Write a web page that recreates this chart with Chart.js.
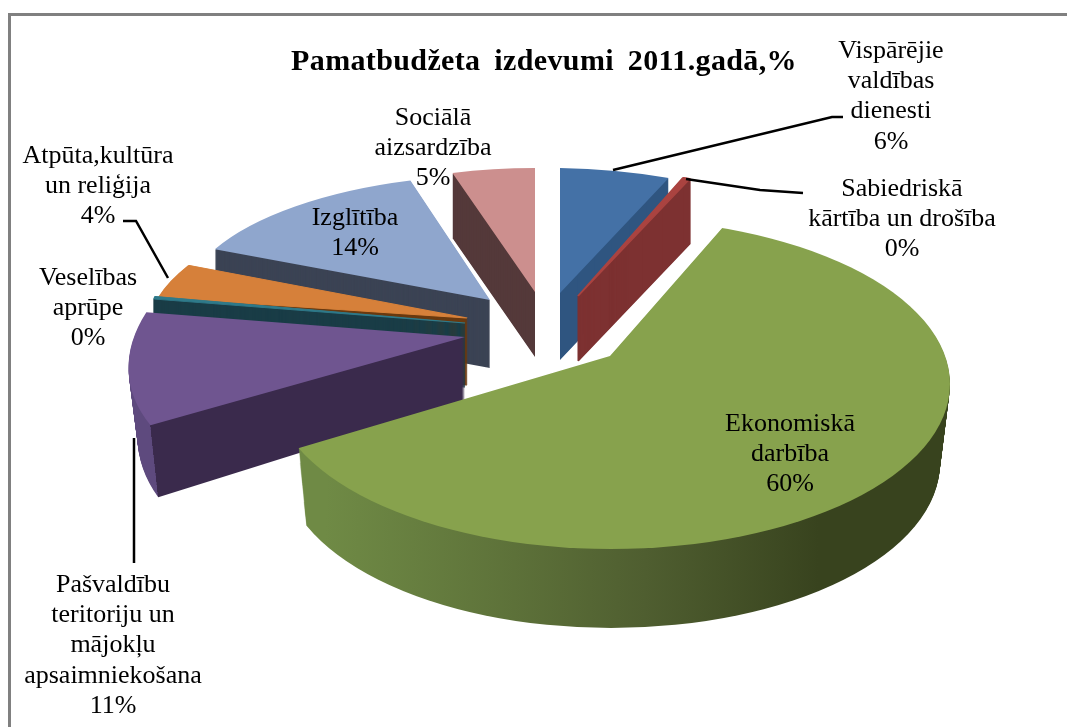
<!DOCTYPE html>
<html>
<head>
<meta charset="utf-8">
<title>Pamatbudžeta izdevumi 2011.gadā</title>
<script src="https://cdn.jsdelivr.net/npm/chart.js@4"></script>
<style>
    html, body { margin: 0; padding: 0; background: #fff; overflow: hidden; }
    canvas { display: block; }
</style>
</head>
<body>
<canvas id="pieChartData" width="1067" height="727"></canvas>
<script>
var chartTitle = 'Pamatbudžeta izdevumi 2011.gadā,%';
var categories = [
    ['Vispārējie', 'valdības', 'dienesti'],
    ['Sabiedriskā', 'kārtība un drošība'],
    ['Ekonomiskā', 'darbība'],
    ['Pašvaldību', 'teritoriju un', 'mājokļu', 'apsaimniekošana'],
    ['Veselības', 'aprūpe'],
    ['Atpūta,kultūra', 'un reliģija'],
    ['Izglītība'],
    ['Sociālā', 'aizsardzība']
];
var values = [5.8, 0.4, 60.4, 11, 0.3, 4, 13.6, 4.5];
var pieColors = ['#4471a6', '#aa4340', '#87a24d', '#6f5590', '#2f7a8a', '#d6803a', '#8fa6cd', '#cc8f8e'];
var wallColors = ['#2f5580', '#7d3131', '#4f5e30', '#3a2a4c', '#1a3d47', '#6a3a10', '#3b4354', '#54393a'];

// back slices first, so the front ones cover them
var drawOrder = [7, 6, 0, 1, 5, 4, 3, 2];

// the picture has perspective and every slice is pulled out by hand,
// so each one gets its own view: apex, matrix (a s m b) and how the bottom face differs.
// edge = outline for the very thin slices, they fade out near the apex without it
var sliceViews = [
    { x: 560, y: 293, depth: 67, a: 305, s: 5, m: 0, b: 125 },
    { x: 578, y: 296, depth: 65, a: 295, s: 0, m: 0, b: 127, edge: 2 },
    // big slice: wedge is oversized and cut by the disc, its apex is not the disc centre
    {
        x: 610, y: 356, depth: 79, a: 638, s: -54, m: 54, b: 215,
        disc: { x: 611, y: 384, a: 339, b: 165, da: -10 }
    },
    { x: 465, y: 337, depth: 64, a: 332, s: -3, m: -55, b: 170, da: -9, db: 16 },
    { x: 465, y: 323, depth: 64, a: 315, s: 0, m: 0, b: 147, edge: 2 },
    { x: 467, y: 318, depth: 67, a: 318, s: -4, m: -25, b: 134, edge: 2 },
    { x: 490, y: 300, depth: 68, a: 306, s: -2, m: -6, b: 125 },
    { x: 535, y: 292, depth: 65, a: 296, s: 0, m: 0, b: 124 }
];

// centre x and y of the first line, in the order of categories
var labelPlaces = [
    { x: 891, y: 51 }, { x: 902, y: 189 }, { x: 790, y: 424 }, { x: 113, y: 585 },
    { x: 88, y: 278 }, { x: 98, y: 156 }, { x: 355, y: 218 }, { x: 433, y: 118 }
];
var leaderLines = [
    [[613, 170], [832, 117], [843, 117]],
    [[686, 179], [760, 190], [803, 193]],
    [[123, 221], [136, 221], [168, 278]],
    [[134, 438], [134, 563]]
];

function wallFill(ctx, arc, i) {
    var r = arc.outerRadius;
    if (i === 2) {
        // this slice is drawn oversized, so the stops sit close together
        var g = ctx.createLinearGradient(arc.x - r, 0, arc.x + r, 0);
        g.addColorStop(0.26, '#6f8a45');
        g.addColorStop(0.49, '#4f5e30');
        g.addColorStop(0.63, '#38431e');
        g.addColorStop(1, '#38431e');
        return g;
    }
    if (i === 3) {
        // the round outer wall is lighter than the cut face
        var p = ctx.createLinearGradient(arc.x - r, 0, arc.x + r, 0);
        p.addColorStop(0.067, '#5e4a7e');
        p.addColorStop(0.067, wallColors[3]);
        p.addColorStop(1, wallColors[3]);
        return p;
    }
    return wallColors[i];
}

function drawLayer(ctx, arc, view, t, fill) {
    var r = arc.outerRadius;
    var layer = Object.create(arc);
    layer.options = Object.assign({}, arc.options, {
        backgroundColor: fill,
        borderColor: fill,
        borderWidth: view.edge || 0
    });
    var a = view.a + (view.da || 0) * t;
    var b = view.b + (view.db || 0) * t;
    ctx.save();
    if (view.disc) {
        var d = view.disc;
        ctx.beginPath();
        ctx.ellipse(d.x, d.y + view.depth * t, d.a + (d.da || 0) * t, d.b, 0, 0, Math.PI * 2);
        ctx.clip();
    }
    ctx.transform(a / r, view.s / r, view.m / r, b / r, view.x, view.y + view.depth * t);
    ctx.translate(-arc.x, -arc.y);
    layer.draw(ctx);
    ctx.restore();
}

var pie3d = {
    id: 'pie3d',
    beforeDraw: function (chart) {
        var ctx = chart.ctx;
        ctx.save();
        ctx.fillStyle = '#808080';
        ctx.fillRect(8, 13, 1059, 3);
        ctx.fillRect(8, 13, 3, 714);
        ctx.restore();
        ctx.wordSpacing = '6px';
        ctx.letterSpacing = '0.37px';
    },
    beforeDatasetDraw: function (chart) {
        var ctx = chart.ctx;
        var arcs = chart.getDatasetMeta(0).data;
        drawOrder.forEach(function (i) {
            var view = sliceViews[i];
            var fill = wallFill(ctx, arcs[i], i);
            for (var d = Math.ceil(view.depth); d > 0; d--) {
                drawLayer(ctx, arcs[i], view, d / view.depth, fill);
            }
            drawLayer(ctx, arcs[i], view, 0, pieColors[i]);
        });
        return false;
    },
    afterDatasetsDraw: function (chart) {
        var ctx = chart.ctx;
        ctx.save();
        ctx.strokeStyle = '#000';
        ctx.lineWidth = 2.5;
        leaderLines.forEach(function (line) {
            ctx.beginPath();
            line.forEach(function (pt, n) {
                if (n === 0) ctx.moveTo(pt[0], pt[1]);
                else ctx.lineTo(pt[0], pt[1]);
            });
            ctx.stroke();
        });
        ctx.fillStyle = '#000';
        ctx.font = '26px "Liberation Serif"';
        ctx.textAlign = 'center';
        ctx.textBaseline = 'middle';
        ctx.wordSpacing = '0px';
        ctx.letterSpacing = '0px';
        categories.forEach(function (lines, i) {
            lines.concat(Math.round(values[i]) + '%').forEach(function (text, n) {
                ctx.fillText(text, labelPlaces[i].x, labelPlaces[i].y + n * 30.3);
            });
        });
        ctx.restore();
    }
};

var pieChart = new Chart(document.getElementById('pieChartData').getContext('2d'), {
    type: 'pie',
    data: {
        labels: categories.map(function (c) { return c.join(' '); }),
        datasets: [{
            data: values,
            backgroundColor: pieColors,
            borderWidth: 0
        }]
    },
    options: {
        responsive: false,
        animation: false,
        layout: { padding: { left: 21 } },
        plugins: {
            legend: { display: false },
            tooltip: { enabled: false },
            title: {
                display: true,
                text: chartTitle,
                color: '#000',
                padding: { top: 44, bottom: 0 },
                font: { family: '"Liberation Serif"', size: 30, weight: 'bold' }
            }
        }
    },
    plugins: [pie3d]
});
</script>
</body>
</html>
